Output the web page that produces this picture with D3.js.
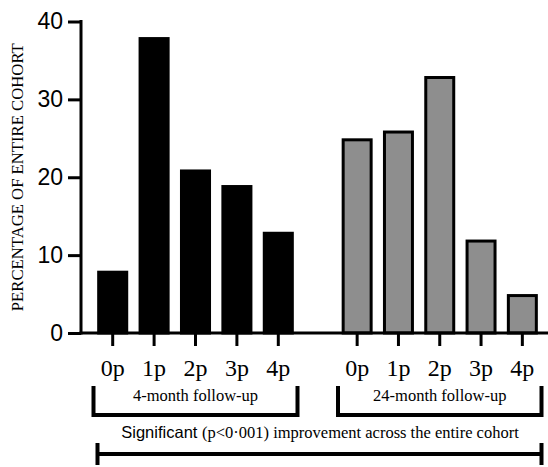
<!DOCTYPE html>
<html>
<head>
<meta charset="utf-8">
<script src="https://cdn.jsdelivr.net/npm/d3@7"></script>
<style>
  body { margin: 0; background: #fff; }
</style>
</head>
<body>
<div id="viz"></div>
<script>
const categories = ["0p", "1p", "2p", "3p", "4p"];
const fourMonth = [8, 38, 21, 19, 13];
const twentyFourMonth = [25, 26, 33, 12, 5];
const yTicks = [0, 10, 20, 30, 40];
const groupLabels = ["4-month follow-up", "24-month follow-up"];

const width = 548;
const height = 467;
const serif = "'Liberation Serif', 'Times New Roman', serif";
const sans = "'Liberation Sans', Arial, sans-serif";

const svg = d3.select("#viz")
  .append("svg")
  .attr("width", width)
  .attr("height", height);

const y = d3.scaleLinear().domain([0, 40]).range([333, 21.5]);

// two groups of bars, each on its own band scale
const x1 = d3.scaleBand().domain(categories).range([92, 299]).paddingInner(0.25).paddingOuter(0.125);
const x2 = d3.scaleBand().domain(categories).range([336.5, 543]).paddingInner(0.25).paddingOuter(0.125);

const groups = [
  { x: x1, values: fourMonth, fill: "#000", label: groupLabels[0] },
  { x: x2, values: twentyFourMonth, fill: "#8e8e8e", label: groupLabels[1] }
];

groups.forEach(g => {
  svg.append("g")
    .selectAll("rect")
    .data(g.values)
    .enter()
    .append("rect")
    .attr("x", (d, i) => g.x(categories[i]) + 1.5)
    .attr("width", g.x.bandwidth() - 3)
    .attr("y", d => y(d) + 1.5)
    .attr("height", d => y(0) - y(d) - 1.5)
    .attr("fill", g.fill)
    .attr("stroke", "#000")
    .attr("stroke-width", 3);

  // x ticks + labels
  const ax = svg.append("g")
    .attr("transform", `translate(0,${y(0)})`)
    .call(d3.axisBottom(g.x).tickSize(13).tickPadding(13));
  ax.select(".domain").remove();
  ax.selectAll(".tick line").attr("stroke-width", 3).attr("stroke", "#000");
  ax.selectAll(".tick text")
    .attr("font-family", serif)
    .attr("font-size", 24)
    .attr("fill", "#000");
});

// y axis
const yAxis = svg.append("g")
  .attr("transform", "translate(81,0)")
  .call(d3.axisLeft(y).tickValues(yTicks).tickSize(13).tickPadding(5));
yAxis.select(".domain").remove();
yAxis.selectAll(".tick line").attr("stroke-width", 3).attr("stroke", "#000");
yAxis.selectAll(".tick text")
  .attr("font-family", sans)
  .attr("font-size", 23)
  .attr("fill", "#000");

svg.append("line")
  .attr("x1", 81).attr("x2", 81)
  .attr("y1", y(40) - 1.5).attr("y2", y(0) + 1.5)
  .attr("stroke", "#000").attr("stroke-width", 3);

svg.append("line")
  .attr("x1", 79.5).attr("x2", width)
  .attr("y1", y(0)).attr("y2", y(0))
  .attr("stroke", "#000").attr("stroke-width", 3);

svg.append("text")
  .attr("transform", `translate(22.5,${(y(0) + y(40)) / 2}) rotate(-90)`)
  .attr("text-anchor", "middle")
  .attr("font-family", serif)
  .attr("font-size", 16.7)
  .text("PERCENTAGE OF ENTIRE COHORT");

// group brackets
function bracket(xl, xr, yTop, yBar) {
  svg.append("path")
    .attr("d", `M${xl},${yTop}V${yBar}H${xr}V${yTop}`)
    .attr("fill", "none")
    .attr("stroke", "#000")
    .attr("stroke-width", 4);
}

groups.forEach(g => {
  const xl = g.x.range()[0] + 1.5;
  const xr = g.x.range()[1] - 1.5;
  bracket(xl, xr, 386, 415);
  svg.append("text")
    .attr("x", (xl + xr) / 2)
    .attr("y", 401)
    .attr("text-anchor", "middle")
    .attr("font-family", serif)
    .attr("font-size", 16.5)
    .text(g.label);
});

// whole-cohort bar
svg.append("path")
  .attr("d", "M97.5,443V465M97.5,454H541.5M541.5,443V465")
  .attr("fill", "none")
  .attr("stroke", "#000")
  .attr("stroke-width", 4);

const sig = svg.append("text")
  .attr("x", 320)
  .attr("y", 438)
  .attr("text-anchor", "middle")
  .attr("font-family", serif)
  .attr("font-size", 16.5);
sig.append("tspan").attr("font-family", sans).text("Significant ");
sig.append("tspan").text("(p<0·001) improvement across the entire cohort");
</script>
</body>
</html>
